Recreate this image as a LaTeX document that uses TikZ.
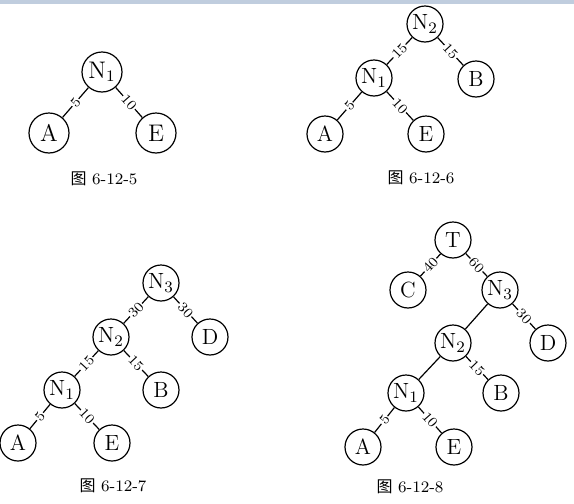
\documentclass[tikz,border=0pt]{standalone}
\usepackage{fontspec}
\newfontfamily\cjk{Noto Sans CJK SC}
\usetikzlibrary{backgrounds}
\definecolor{barcolor}{RGB}{192,205,222}
\tikzstyle{vertex}=[draw, circle, minimum size=18pt, inner sep=0pt, fill=white, font=\fontsize{11}{13}\selectfont]
\tikzstyle{bigvertex}=[vertex, minimum size=20pt, font=\fontsize{12}{14}\selectfont]
\tikzstyle{weight}=[midway, sloped, fill=white, inner sep=0.4pt, font=\scriptsize]
\tikzstyle{caption}=[font=\footnotesize]
\newcommand{\figCap}[3]{
	\node[caption] (#1) at #2 {{\cjk 图} #3};
}
\begin{document}
\begin{tikzpicture}[x=0.5pt, y=-0.5pt, line width=0.6pt]
	\useasboundingbox (0,0) rectangle (574,504);
	\fill[barcolor] (0,0) rectangle (574,4);
	% 6-12-5
	\node[bigvertex] (aN1) at (102,72) {$\mathrm{N}_1$};
	\node[bigvertex] (aA) at (49,133) {A};
	\node[bigvertex] (aE) at (156,133) {E};
	\draw (aN1) -- node[weight] {5} (aA);
	\draw (aN1) -- node[weight] {10} (aE);
	\figCap{capa}{(104,179)}{6-12-5}
	% 6-12-6
	\node[vertex] (bN2) at (425,24) {$\mathrm{N}_2$};
	\node[vertex] (bN1) at (374,78) {$\mathrm{N}_1$};
	\node[vertex] (bB) at (476,79) {B};
	\node[vertex] (bA) at (325,134) {A};
	\node[vertex] (bE) at (426,134) {E};
	\draw (bN2) -- node[weight] {15} (bN1);
	\draw (bN2) -- node[weight] {15} (bB);
	\draw (bN1) -- node[weight] {5} (bA);
	\draw (bN1) -- node[weight] {10} (bE);
	\figCap{capb}{(421,178)}{6-12-6}
	% 6-12-7
	\node[vertex] (cN3) at (161,283) {$\mathrm{N}_3$};
	\node[vertex] (cN2) at (111,337) {$\mathrm{N}_2$};
	\node[vertex] (cD) at (210,337) {D};
	\node[vertex] (cN1) at (62,390) {$\mathrm{N}_1$};
	\node[vertex] (cB) at (161,390) {B};
	\node[vertex] (cA) at (18,443) {A};
	\node[vertex] (cE) at (112,443) {E};
	\draw (cN3) -- node[weight] {30} (cN2);
	\draw (cN3) -- node[weight] {30} (cD);
	\draw (cN2) -- node[weight] {15} (cN1);
	\draw (cN2) -- node[weight] {15} (cB);
	\draw (cN1) -- node[weight] {5} (cA);
	\draw (cN1) -- node[weight] {10} (cE);
	\figCap{capc}{(113,486)}{6-12-7}
	% 6-12-8
	\node[vertex] (dT) at (453,240) {T};
	\node[vertex] (dC) at (408,290) {C};
	\node[vertex] (dN3) at (500,290) {$\mathrm{N}_3$};
	\node[vertex] (dN2) at (453,343) {$\mathrm{N}_2$};
	\node[vertex] (dD) at (548,343) {D};
	\node[vertex] (dN1) at (406,393) {$\mathrm{N}_1$};
	\node[vertex] (dB) at (501,393) {B};
	\node[vertex] (dA) at (363,447) {A};
	\node[vertex] (dE) at (454,447) {E};
	\draw (dT) -- node[weight] {40} (dC);
	\draw (dT) -- node[weight] {60} (dN3);
	\draw (dN3) -- (dN2);
	\draw (dN3) -- node[weight] {30} (dD);
	\draw (dN2) -- (dN1);
	\draw (dN2) -- node[weight] {15} (dB);
	\draw (dN1) -- node[weight] {5} (dA);
	\draw (dN1) -- node[weight] {10} (dE);
	\figCap{capd}{(410,487)}{6-12-8}
\end{tikzpicture}
\end{document}
